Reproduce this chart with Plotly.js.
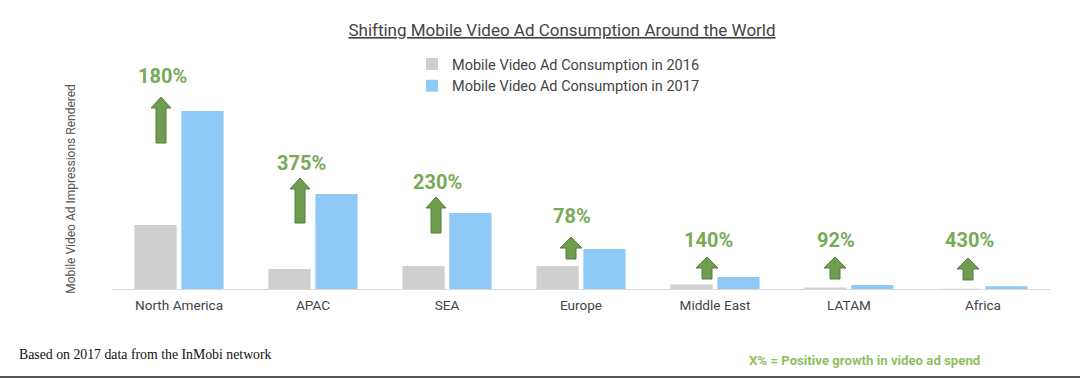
<!DOCTYPE html>
<html>
<head>
<meta charset="utf-8">
<script src="https://cdn.plot.ly/plotly-3.0.1.min.js"></script>
<style>
  html, body { margin: 0; padding: 0; background: #fff; }
  #chart { width: 1080px; height: 378px; }
</style>
</head>
<body>
<div id="chart"></div>
<script>
// ---- data ----
const categories = ['North America', 'APAC', 'SEA', 'Europe', 'Middle East', 'LATAM', 'Africa'];
const consumption2016 = [64, 20, 23, 23, 4.5, 1.5, 0.3];
const consumption2017 = [178, 95, 76, 40, 12, 4, 2.7];
const growthLabels = ['180%', '375%', '230%', '78%', '140%', '92%', '430%'];
const seriesNames = ['Mobile Video Ad Consumption in 2016', 'Mobile Video Ad Consumption in 2017'];

// ---- layout geometry ----
const W = 1080, H = 378;
const M = { l: 112, r: 30, t: 89, b: 89 };
const PW = W - M.l - M.r, PH = H - M.t - M.b;
const px2paperX = p => (p - M.l) / PW;
const px2paperY = p => (H - M.b - p) / PH;
const catCenterPx = i => M.l + PW * (i + 0.5) / categories.length;

// decoration placement (arrow centre offset from category centre, arrow top / length, label y) in px
const decor = [
  { dx: -18, top: 97,  len: 46, labelY: 76,  big: true },
  { dx: -13, top: 178, len: 45, labelY: 163, big: true },
  { dx: -11, top: 197, len: 36, labelY: 182, big: true },
  { dx: -10, top: 237, len: 22, labelY: 216, big: false },
  { dx: -8,  top: 257, len: 22, labelY: 240, big: false },
  { dx: -14, top: 257, len: 22, labelY: 240, big: false },
  { dx: -15, top: 258, len: 22, labelY: 240, big: false }
];

const GREEN_TXT = '#79aa57';
const shapes = [];
const annotations = [];

categories.forEach((c, i) => {
  const d = decor[i];
  const hw = d.big ? 10 : 11, sw = 5, hh = 11;
  const L = d.len;
  shapes.push({
    type: 'path',
    xref: 'paper', yref: 'y',
    xsizemode: 'pixel', ysizemode: 'pixel',
    xanchor: px2paperX(catCenterPx(i) + d.dx),
    yanchor: H - M.b - d.top,
    path: `M0,0 L${hw},${-hh} L${sw},${-hh} L${sw},${-L} L${-sw},${-L} L${-sw},${-hh} L${-hw},${-hh} Z`,
    fillcolor: '#6f9c4e',
    line: { color: '#567f40', width: 1 }
  });
  annotations.push({
    xref: 'paper', yref: 'paper',
    x: px2paperX(catCenterPx(i) + d.dx + 1),
    y: px2paperY(d.labelY),
    xanchor: 'center', yanchor: 'middle',
    text: '<b>' + growthLabels[i] + '</b>',
    showarrow: false,
    font: { family: 'Roboto', size: 20, color: GREEN_TXT }
  });
});

// footnotes
annotations.push({
  xref: 'paper', yref: 'paper',
  x: px2paperX(17), y: px2paperY(354),
  xanchor: 'left', yanchor: 'middle',
  text: 'Based on 2017 data from the InMobi network',
  showarrow: false,
  font: { family: 'Liberation Serif', size: 13.8, color: '#111' }
});
annotations.push({
  xref: 'paper', yref: 'paper',
  x: px2paperX(747), y: px2paperY(360),
  xanchor: 'left', yanchor: 'middle',
  text: '<b>X% = Positive growth in video ad spend</b>',
  showarrow: false,
  font: { family: 'Roboto', size: 13.2, color: '#8cbf62' }
});

// bottom rule
shapes.push({
  type: 'line', xref: 'paper', yref: 'paper',
  x0: px2paperX(0), x1: px2paperX(W),
  y0: px2paperY(377), y1: px2paperY(377),
  line: { color: '#555', width: 2 }
});

const traces = [
  { type: 'bar', name: seriesNames[0], x: categories, y: consumption2016,
    marker: { color: '#cfcfcf' }, hoverinfo: 'x+y' },
  { type: 'bar', name: seriesNames[1], x: categories, y: consumption2017,
    marker: { color: '#8fcaf6' }, hoverinfo: 'x+y' }
];

const layout = {
  width: W, height: H,
  margin: M,
  paper_bgcolor: '#fff', plot_bgcolor: '#fff',
  font: { family: 'Roboto', color: '#444' },
  title: {
    text: '<span style="text-decoration:underline">Shifting Mobile Video Ad Consumption Around the World</span>',
    font: { family: 'Roboto', size: 17, color: '#444' },
    xref: 'container', x: 562 / W, xanchor: 'center',
    yref: 'container', y: 1 - 30 / H, yanchor: 'middle'
  },
  barmode: 'group',
  bargap: 0.3,
  bargroupgap: 0.1,
  showlegend: true,
  legend: {
    orientation: 'v',
    x: px2paperX(412), xanchor: 'left',
    y: px2paperY(48), yanchor: 'top',
    font: { family: 'Roboto', size: 14.5, color: '#444' },
    tracegroupgap: 0,
    bgcolor: 'rgba(0,0,0,0)',
    itemclick: false, itemdoubleclick: false
  },
  xaxis: {
    type: 'category',
    showline: true, linecolor: '#d9d9d9', linewidth: 1,
    showgrid: false, zeroline: false, ticks: '',
    ticklabelstandoff: 4,
    tickfont: { family: 'Roboto', size: 13.6, color: '#444' },
    fixedrange: true
  },
  yaxis: {
    range: [0, PH],
    showticklabels: false, showgrid: false, zeroline: false, showline: false,
    ticks: '',
    title: { text: 'Mobile Video Ad Impressions Rendered', standoff: 32,
             font: { family: 'Roboto', size: 12, color: '#555' } },
    fixedrange: true
  },
  shapes: shapes,
  annotations: annotations
};

Plotly.newPlot('chart', traces, layout, { displayModeBar: false, staticPlot: true });
</script>
</body>
</html>
